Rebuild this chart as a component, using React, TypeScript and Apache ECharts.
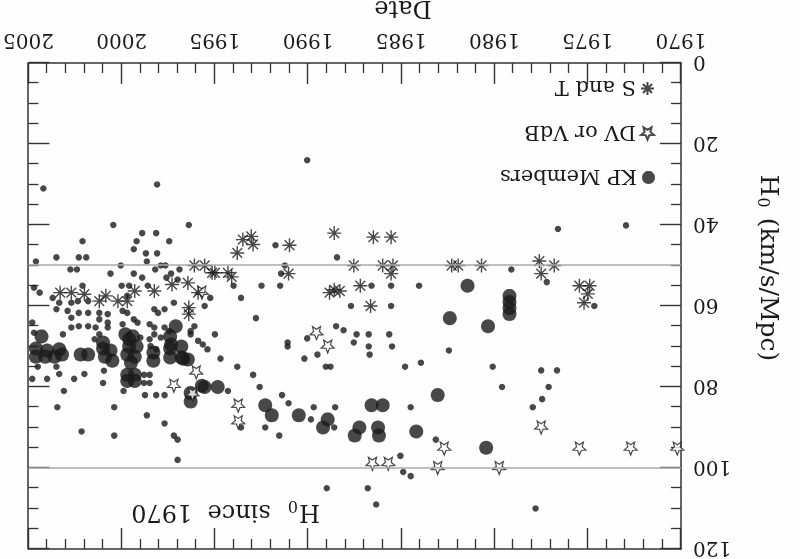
import React, { useEffect, useRef } from "react";
import * as echarts from "echarts";

const FONT = "DejaVu Serif";
const INK = "#1a1a1a";

const yearTicks = [1970, 2005];
const h0Range = [0, 120];
const refLines = [50, 100];

// [year, H0]
const kpMembers: number[][] = [
  [1981.45, 55], [1982.4, 63], [1980.35, 65], [1979.2, 57.5], [1979.2, 59], [1979.2, 60.5], [1979.2, 62],
  [1983.05, 82], [1980.45, 95], [1995.55, 80], [1994.85, 80], [1992.3, 84.5], [1991.95, 87], [1990.5, 87],
  [1988.95, 88], [1989.2, 90], [1987.25, 90], [1987.5, 92], [1986.6, 84.5], [1986.0, 84.5], [1986.25, 90],
  [1986.2, 92], [1984.2, 91], [1996.3, 83.6], [1995.7, 79.7], [1999.6, 68.2], [1997.1, 65], [1997.35, 69.5],
  [1996.7, 73], [2004.3, 67.5], [2004.6, 70.5], [2004.0, 71], [2004.6, 72.5], [2004.1, 72.5], [2003.6, 72.5],
  [2003.2, 72], [2003.35, 70.7], [2002.2, 72], [2001.8, 72], [2001.0, 70.5], [2000.6, 71], [2000.9, 72.5],
  [2000.5, 73.5], [2001.0, 69], [1999.8, 67], [1999.4, 67.5], [1999.6, 70], [1999.2, 70], [1999.7, 72],
  [1999.3, 72.5], [1999.5, 74], [1999.7, 77], [1999.3, 77], [1999.7, 78.5], [1999.3, 78.5], [1998.3, 71.5],
  [1998.3, 73.5], [1997.4, 67.5], [1997.4, 70.5], [1997.4, 72.7], [1996.8, 72.7], [1996.45, 73.2],
  [1996.8, 70], [1996.3, 81.5],
];

const dvVdb: number[][] = [
  [1977.5, 90], [1982.7, 95.2], [1983.05, 100], [1979.75, 100], [1975.45, 95.2], [1972.7, 95.2],
  [1970.2, 95.2], [1993.75, 84.6], [1993.75, 88.7], [1989.55, 66.7], [1988.95, 70], [1986.55, 99],
  [1985.7, 99], [1995.7, 56.7], [1997.2, 79.7], [1996.2, 81.8], [1996.0, 76.4],
];

const sAndT: number[][] = [
  [1982.3, 50], [1981.95, 50], [1980.7, 50], [1977.6, 48.9], [1976.8, 50], [1977.5, 52], [1975.45, 55],
  [1974.9, 55], [1975.0, 57], [1975.2, 59.2], [1993.05, 42.8], [1993.5, 43.6], [1992.95, 44.8],
  [1993.8, 46.9], [1991.0, 45], [1988.6, 42], [1986.5, 43], [1985.55, 43], [1995.0, 51.8], [1994.3, 51.8],
  [1994.1, 52.8], [1991.05, 52], [1987.55, 50], [1986.0, 50], [1985.45, 50], [1985.55, 52], [1988.6, 56],
  [1988.3, 56.3], [1988.85, 56.7], [1987.2, 55], [1986.65, 60], [2003.3, 56.7], [2002.7, 56.7],
  [2002.0, 57.1], [2000.85, 57.5], [2000.2, 58.8], [2001.2, 58.8], [1999.3, 56.3], [1998.25, 56.3],
  [1997.3, 54.7], [1996.45, 54.3], [1995.9, 56.7], [1996.4, 60.4], [1996.4, 62], [1995.15, 51.8],
  [1999.7, 58.8], [1996.1, 50], [1995.55, 50],
];

const otherEstimates: number[][] = [
  [1976.6, 41], [1972.95, 40.1], [1979.1, 51], [1977.2, 54.1], [1974.65, 60], [1982.45, 71], [1980.1, 75],
  [1979.6, 80], [1977.5, 75.9], [1976.65, 75.9], [1977.1, 80], [1977.45, 83], [1977.95, 85], [1983.15, 93],
  [1977.8, 110], [1990.05, 24], [1991.75, 45], [1988.45, 48], [1991.25, 50], [1991.45, 52], [1994.0, 55],
  [1992.5, 55], [1991.5, 55], [1986.6, 55], [1985.55, 55], [1984.05, 55], [1995.25, 58], [1995.55, 60],
  [1993.6, 58], [1987.7, 60], [1985.55, 60], [1992.8, 63], [1988.5, 65], [1988.1, 66], [1995.0, 67],
  [1987.4, 67], [1986.75, 67], [1985.65, 67], [1987.55, 69], [1986.75, 70], [1985.5, 70], [1986.7, 72],
  [1990.05, 68], [1991.1, 69], [1991.1, 70], [1989.5, 72], [1990.2, 73], [1989.05, 75], [1988.8, 75],
  [1994.7, 73], [1993.8, 75], [1992.95, 77], [1992.6, 80], [1994.3, 81], [1991.4, 82], [1991.05, 84],
  [1989.7, 85], [1988.55, 85], [1984.5, 85], [1984.8, 75], [1983.95, 74], [1989.85, 88], [1988.6, 90],
  [1992.3, 90], [1991.55, 92], [1993.6, 90], [1985.05, 97], [1984.9, 101], [1984.5, 102], [1989.0, 105],
  [1986.8, 105], [1986.35, 109], [2004.2, 31], [1998.1, 30], [2000.45, 40], [1996.4, 40], [2002.1, 44],
  [1998.9, 42], [1998.15, 42], [1999.2, 44], [1997.45, 44], [1999.35, 46], [1998.7, 47], [1998.1, 47],
  [2003.5, 48], [2002.3, 48], [2001.9, 48], [2004.6, 49], [1998.65, 49], [2000.05, 50], [2002.75, 51],
  [2002.4, 51], [1998.2, 51], [1997.9, 50], [1997.65, 50], [1996.9, 51], [2000.6, 52], [1999.35, 52],
  [1998.9, 53], [1997.6, 53], [1997.35, 52], [1997.0, 53.5], [2002.1, 55], [2000.0, 55], [1999.6, 55],
  [1998.6, 55], [1999.7, 57.5], [2004.7, 55.5], [2004.4, 56.7], [2003.7, 58], [2003.35, 59.2],
  [2002.7, 59.2], [2002.35, 58.8], [2001.8, 58.8], [2002.9, 61.2], [2003.5, 60.8], [2002.3, 61.7],
  [2001.8, 61.7], [2001.2, 61.7], [2000.75, 62], [1999.95, 61.2], [1999.7, 61.7], [1998.25, 60.8],
  [1998.05, 61.7], [1997.7, 60.8], [1997.2, 59.2], [2004.8, 64.1], [2002.7, 62.9], [2001.2, 63.3],
  [2000.75, 64.1], [1999.35, 63.3], [1999.15, 64.1], [1999.95, 64.5], [1998.5, 64.5], [1998.25, 65.3],
  [2002.7, 65.3], [2002.3, 65], [2001.8, 65], [2001.4, 65.3], [2000.75, 65.3], [1997.7, 65.3],
  [1997.45, 66.2], [1996.1, 65], [1996.3, 66.2], [2004.7, 66.6], [2003.15, 67], [2001.45, 68.2],
  [2001.2, 67], [1999.0, 67.8], [1998.5, 68.2], [1995.9, 68.6], [1995.65, 69.5], [1995.4, 70.7],
  [1998.45, 69.9], [1998.15, 70.7], [1998.25, 67], [1997.9, 67.8], [1996.3, 67], [2004.5, 75],
  [2003.5, 75], [2004.8, 78], [2004.0, 78], [2003.35, 76.8], [2002.55, 78], [2002.0, 76.8], [2001.0, 79],
  [2000.95, 76], [2003.1, 81], [1999.9, 81], [1998.8, 77], [1998.5, 77], [1998.8, 79], [1998.5, 79],
  [1998.75, 82], [1998.15, 82], [1997.7, 82], [2003.45, 85], [2000.4, 85], [1998.65, 87], [1997.7, 89],
  [2002.15, 91], [2000.4, 92], [1997.2, 92], [1997.0, 93], [1997.0, 98],
];

const STAR =
  "path://M0,-1L0.26,-0.36L0.95,-0.31L0.42,0.14L0.59,0.81L0,0.44L-0.59,0.81L-0.42,0.14L-0.95,-0.31L-0.26,-0.36Z";
const ASTERISK =
  "path://M0,-1L0,1M-1,0L1,0M-0.7,-0.7L0.7,0.7M-0.7,0.7L0.7,-0.7";

export default function App() {
  const ref = useRef<HTMLDivElement>(null);
  useEffect(() => {
    if (!ref.current) return;
    const chart = echarts.init(ref.current, null, { renderer: "svg" });
    const axisCommon = {
      type: "value" as const,
      axisLine: { onZero: false, lineStyle: { color: "#333", width: 1.5 } },
      axisTick: { inside: true, length: 21, lineStyle: { color: "#333", width: 1.4 } },
      minorTick: { show: true, length: 10, lineStyle: { color: "#333", width: 1.3 } },
      splitLine: { show: false },
    };
    const xLabel = {
      fontFamily: FONT, fontSize: 20, color: INK, margin: 12,
      formatter: (v: number) => String(v),
    };
    const yLabel = {
      fontFamily: FONT, fontSize: 20, color: INK, margin: 12,
      formatter: (v: number) => String(v),
    };
    const legendCommon = {
      orient: "vertical" as const,
      padding: 0,
      itemWidth: 13,
      itemHeight: 13,
      selectedMode: false,
      textStyle: { fontFamily: FONT, fontSize: 21, color: INK },
    };
    chart.setOption({
      animation: false,
      backgroundColor: "#fefefe",
      title: {
        text: "{a|H}{b|0}{a|  since  1970}",
        left: 480,
        top: 32,
        padding: 0,
        textStyle: {
          fontWeight: "normal",
          rich: {
            a: { fontFamily: FONT, fontSize: 24, fontWeight: "normal", color: INK },
            b: { fontFamily: FONT, fontSize: 16, fontWeight: "normal", color: INK, verticalAlign: "bottom", padding: [12, 2, 0, 1] },
          },
        },
      },
      legend: [
        { ...legendCommon, data: ["KP Members"], left: 145, top: 371 },
        { ...legendCommon, data: ["DV or VdB"], left: 145, top: 415 },
        { ...legendCommon, data: ["S and T"], left: 145, top: 460 },
      ],
      grid: { left: 119, right: 27, top: 9, bottom: 63 },
      xAxis: [
        {
          ...axisCommon, min: yearTicks[0], max: yearTicks[1], interval: 5, position: "bottom",
          minorTick: { ...axisCommon.minorTick, splitNumber: 5 }, axisLabel: xLabel,
        },
        {
          ...axisCommon, min: yearTicks[0], max: yearTicks[1], interval: 5, position: "top",
          minorTick: { ...axisCommon.minorTick, splitNumber: 5 }, axisLabel: { show: false },
        },
      ],
      yAxis: [
        {
          ...axisCommon, min: h0Range[0], max: h0Range[1], interval: 20, position: "left",
          minorTick: { ...axisCommon.minorTick, splitNumber: 4 }, axisLabel: yLabel,
        },
        {
          ...axisCommon, min: h0Range[0], max: h0Range[1], interval: 20, position: "right",
          minorTick: { ...axisCommon.minorTick, splitNumber: 4 }, axisLabel: { show: false },
        },
      ],
      graphic: [
        {
          type: "text", x: 30, y: 291, rotation: Math.PI / 2,
          style: {
            text: "{a|H}{b|0}{a| (km/s/Mpc)}",
            align: "center", verticalAlign: "middle",
            rich: {
              a: { fontFamily: FONT, fontSize: 25, fill: INK },
              b: { fontFamily: FONT, fontSize: 16, fill: INK, verticalAlign: "bottom", padding: [12, 2, 0, 1] },
            },
          },
        },
        {
          type: "text", x: 397, y: 550,
          style: { text: "Date", align: "center", verticalAlign: "middle", fontFamily: FONT, fontSize: 24, fill: INK },
        },
      ],
      series: [
        {
          name: "Other", type: "scatter", data: otherEstimates, symbol: "circle", symbolSize: 6.5,
          itemStyle: { color: INK }, z: 2,
          markLine: {
            silent: true, symbol: "none", label: { show: false },
            lineStyle: { color: "#aaa", type: "solid", width: 1.6 },
            data: refLines.map((v) => ({ yAxis: v })),
          },
        },
        {
          name: "KP Members", type: "scatter", data: kpMembers, symbol: "circle", symbolSize: 14,
          itemStyle: { color: INK }, z: 3,
        },
        {
          name: "DV or VdB", type: "scatter", data: dvVdb, symbol: STAR, symbolSize: 13,
          itemStyle: { color: "#fff", borderColor: INK, borderWidth: 1.2 }, z: 4,
        },
        {
          name: "S and T", type: "scatter", data: sAndT, symbol: ASTERISK, symbolSize: 14,
          itemStyle: { color: INK, borderColor: INK, borderWidth: 1.4 }, z: 4,
        },
      ],
    });
    return () => chart.dispose();
  }, []);
  return (
    <div
      style={{
        position: "fixed", left: 0, top: 0, width: 800, height: 559,
        transform: "rotate(180deg)", background: "#fefefe",
      }}
    >
      <div ref={ref} style={{ width: 800, height: 559 }} />
    </div>
  );
}
